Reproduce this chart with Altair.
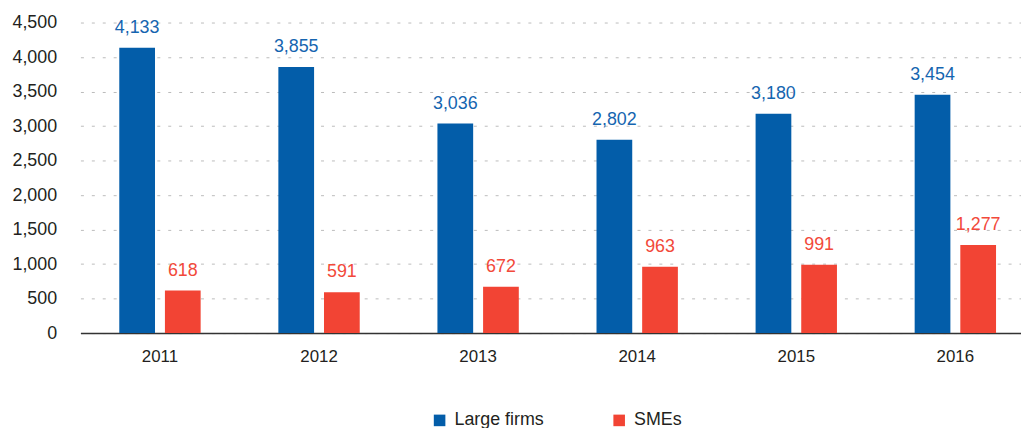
import altair as alt
import pandas as pd

years = ["2011", "2012", "2013", "2014", "2015", "2016"]
large_firms = [4133, 3855, 3036, 2802, 3180, 3454]
smes = [618, 591, 672, 963, 991, 1277]
series_names = ["Large firms", "SMEs"]
colors = ["#035DA9", "#F24434"]
y_ticks = [0, 500, 1000, 1500, 2000, 2500, 3000, 3500, 4000, 4500]

rows = []
for i, y in enumerate(years):
    rows.append({"year": y, "series": series_names[0], "value": large_firms[i]})
    rows.append({"year": y, "series": series_names[1], "value": smes[i]})
df = pd.DataFrame(rows)

FONT = "Liberation Sans"
TXT = "#231F20"

pi = 0.4885
x_enc = alt.X(
    "year:N",
    title=None,
    scale=alt.Scale(range=[4, 966], paddingInner=pi, paddingOuter=pi / 2),
    axis=alt.Axis(
        labelAngle=0, ticks=False, domainColor="#333333", domainWidth=1.5,
        labelPadding=16, labelFontSize=17, labelColor=TXT, labelFont=FONT,
    ),
)
xoff = alt.XOffset(
    "series:N", sort=series_names,
    scale=alt.Scale(paddingInner=0.2174, paddingOuter=0),
)
y_enc = alt.Y(
    "value:Q",
    title=None,
    scale=alt.Scale(domain=[0, 4500], nice=False),
    axis=alt.Axis(
        values=y_ticks, format=",d", domain=False, ticks=False, labelPadding=20,
        labelFontSize=18, labelColor=TXT, labelFont=FONT,
        gridDash=[3, 8], gridColor="#BBBBBB", gridWidth=1,
    ),
)
color_enc = alt.Color(
    "series:N", sort=series_names,
    scale=alt.Scale(domain=series_names, range=colors),
    legend=alt.Legend(
        title=None, orient="none", direction="horizontal", legendX=357, legendY=392,
        symbolType="square", symbolSize=136, symbolStrokeWidth=0, symbolOpacity=1,
        labelFontSize=18, labelFont=FONT, labelColor=TXT, labelOffset=6,
        columnPadding=66, padding=0,
    ),
)

bars = alt.Chart(df).mark_bar(opacity=1).encode(
    x=x_enc, xOffset=xoff, y=y_enc, color=color_enc
)
labels = alt.Chart(df).mark_text(
    baseline="middle", dy=-20, fontSize=18, font=FONT
).encode(
    x=x_enc, xOffset=xoff, y=y_enc,
    text=alt.Text("value:Q", format=",d"),
    color=alt.Color("series:N", scale=alt.Scale(domain=series_names, range=["#1565B0", "#F2493A"]), legend=None),
)

chart = (
    alt.layer(bars, labels)
    .resolve_scale(color="independent")
    .properties(
        width=952, height=313,
        autosize=alt.AutoSizeParams(type="none"),
        padding={"left": 69, "top": 13, "right": 0, "bottom": 94},
    )
    .configure_view(stroke=None)
    .configure_axisX(grid=False)
)
chart.save("out.html", embed_options={"renderer": "svg", "actions": False})
